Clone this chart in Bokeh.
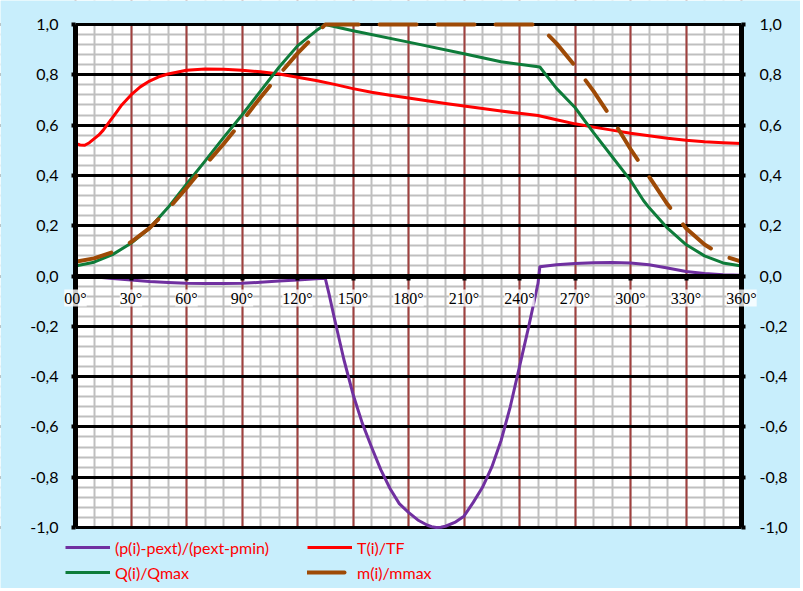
from bokeh.plotting import figure
from bokeh.models import (Range1d, LinearAxis, SingleIntervalTicker, FixedTicker,
                          CustomJSTickFormatter, Grid, Legend, LegendItem, BoxAnnotation,
                          ColumnDataSource, LabelSet)
from bokeh.embed import file_html
from bokeh.resources import INLINE

# ---------------- data ----------------
deg_T = [0, 2.5, 5, 7.5, 10, 12.5, 15, 17.5, 20, 22.5, 25, 27.5, 30, 35, 40, 45, 50, 60, 70, 80,
         90, 100, 110, 120, 130, 140, 150, 160, 170, 180, 190, 200, 210, 220, 230, 240, 250,
         260, 270, 280, 290, 300, 310, 320, 330, 340, 350, 360]
T_TF = [0.527, 0.521, 0.52, 0.53, 0.545, 0.56, 0.58, 0.605, 0.63, 0.655, 0.68, 0.70, 0.72,
        0.752, 0.775, 0.792, 0.803, 0.818, 0.823, 0.822, 0.818, 0.812, 0.803, 0.79, 0.777,
        0.762, 0.745, 0.731, 0.719, 0.708, 0.697, 0.686, 0.676, 0.666, 0.656, 0.647, 0.638,
        0.621, 0.605, 0.592, 0.58, 0.568, 0.558, 0.548, 0.54, 0.534, 0.53, 0.527]

deg_Q = [0, 10, 20, 30, 40, 50, 60, 70, 80, 90, 100, 110, 120, 130, 135, 150, 180, 210, 230,
         251, 260, 270, 280, 290, 300, 307, 310, 320, 330, 340, 350, 360]
Q_Qmax = [0.04, 0.055, 0.085, 0.13, 0.19, 0.272, 0.365, 0.457, 0.55, 0.64, 0.735, 0.83,
          0.915, 0.975, 1.0, 0.975, 0.93, 0.884, 0.852, 0.831, 0.746, 0.67, 0.57, 0.475,
          0.38, 0.30, 0.272, 0.19, 0.125, 0.08, 0.052, 0.04]

deg_m = [0, 10, 20, 30, 40, 50, 60, 70, 80, 90, 100, 110, 120, 130, 135, 250, 260, 270, 280,
         290, 300, 310, 320, 330, 340, 350, 360]
m_mmax = [0.057, 0.07, 0.095, 0.135, 0.19, 0.265, 0.35, 0.44, 0.525, 0.615, 0.71, 0.8, 0.885,
          0.96, 1.0, 1.0, 0.925, 0.835, 0.735, 0.625, 0.505, 0.395, 0.285, 0.19, 0.125, 0.08,
          0.057]

deg_p = [0, 10, 20, 30, 40, 50, 60, 70, 80, 90, 100, 110, 120, 130, 135, 137, 140, 145, 150,
         155, 160, 165, 170, 175, 180, 185, 190, 192.5, 195, 197.5, 200, 205, 210, 215, 220,
         225, 230, 235, 240, 245, 250, 251, 260, 270, 280, 290, 300, 310, 320, 330, 340, 350,
         360]
p_norm = [0.003, -0.003, -0.01, -0.016, -0.022, -0.026, -0.029, -0.03, -0.03, -0.029, -0.025,
          -0.02, -0.016, -0.011, -0.009, -0.07, -0.17, -0.33, -0.47, -0.585, -0.68, -0.77,
          -0.845, -0.905, -0.94, -0.97, -0.99, -0.997, -1.0, -0.999, -0.995, -0.98, -0.955,
          -0.9, -0.84, -0.76, -0.655, -0.52, -0.36, -0.2, -0.03, 0.037, 0.045, 0.05, 0.053,
          0.054, 0.052, 0.045, 0.032, 0.018, 0.01, 0.005, 0.003]

xtick_deg = [0, 30, 60, 90, 120, 150, 180, 210, 240, 270, 300, 330, 360]
xtick_labels = ["00°", "30°", "60°", "90°", "120°", "150°", "180°", "210°", "240°", "270°",
                "300°", "330°", "360°"]

series_labels = ["(p(i)-pext)/(pext-pmin)", "T(i)/TF", "Q(i)/Qmax", "m(i)/mmax"]

# ---------------- styles / layout ----------------
BG = "#C8EEFC"
GRAY = "#BFBFBF"
DARKRED = "#A0403E"
C_P = "#7030A0"
C_T = "#FF0000"
C_Q = "#0E7C3A"
C_M = "#9E4A06"
FONT = "Lato"
W, H = 800, 588
FRAME_L, FRAME_R, FRAME_T, FRAME_B = 75, 741, 24, 527     # plot area in pixels
X_MIN, X_MAX, Y_MIN, Y_MAX = 0, 360, -1.0, 1.0
PXU_Y = (FRAME_B - FRAME_T) / (Y_MAX - Y_MIN)
PXU_X = (FRAME_R - FRAME_L) / (X_MAX - X_MIN)
# the frame covers the whole figure; areas outside the plot are masked in blue
x_range = Range1d(X_MIN - FRAME_L / PXU_X, X_MAX + (W - FRAME_R) / PXU_X)
y_range = Range1d(Y_MIN - (H - FRAME_B) / PXU_Y, Y_MAX + FRAME_T / PXU_Y)

p = figure(width=W, height=H, output_backend="svg", toolbar_location=None,
           x_range=x_range, y_range=y_range, min_border=0)
p.background_fill_color = "white"
p.border_fill_color = BG
p.outline_line_color = None
p.xgrid.visible = False
p.ygrid.visible = False

# grids: minor first, then major
p.add_layout(Grid(dimension=0, ticker=SingleIntervalTicker(interval=10), bounds=(X_MIN, X_MAX),
                  grid_line_color=GRAY, grid_line_width=2))
p.add_layout(Grid(dimension=1, ticker=SingleIntervalTicker(interval=0.04), bounds=(Y_MIN, Y_MAX),
                  grid_line_color=GRAY, grid_line_width=2))
p.add_layout(Grid(dimension=0, ticker=SingleIntervalTicker(interval=30), bounds=(X_MIN, X_MAX),
                  grid_line_color=DARKRED, grid_line_width=2))
p.add_layout(Grid(dimension=1, ticker=SingleIntervalTicker(interval=0.2), bounds=(Y_MIN, Y_MAX),
                  grid_line_color="black", grid_line_width=3))

# blue masks outside the plot area
d = 1.5 / PXU_Y
for kw in (dict(right=X_MIN), dict(left=X_MAX), dict(top=Y_MIN - d), dict(bottom=Y_MAX + d)):
    p.add_layout(BoxAnnotation(fill_color=BG, fill_alpha=1.0, line_color=None,
                               level="underlay", **kw))

# series
r_p = p.line(deg_p, p_norm, line_color=C_P, line_width=3, line_join="round")
r_t = p.line(deg_T, T_TF, line_color=C_T, line_width=3, line_join="round")
r_q = p.line(deg_Q, Q_Qmax, line_color=C_Q, line_width=3, line_join="round")
r_m = p.line(deg_m, m_mmax, line_color=C_M, line_width=4, line_dash="37 21",
             line_cap="round", line_join="round")

# x axis at y = 0 (labels drawn separately with white boxes)
xa = p.xaxis[0]
xa.ticker = FixedTicker(ticks=xtick_deg)
xa.formatter = CustomJSTickFormatter(code="return ''")
xa.fixed_location = 0
xa.bounds = (X_MIN, X_MAX)
xa.axis_line_width = 5
xa.axis_line_color = "black"
xa.major_tick_in = 0
xa.major_tick_out = 4
xa.major_tick_line_width = 4
xa.minor_tick_out = 0
xa.minor_tick_in = 0
xa.major_label_text_font_size = "0px"

fmt = "return tick.toFixed(1).replace('.', ',')"


def style_y(ax, loc, standoff):
    ax.ticker = SingleIntervalTicker(interval=0.2)
    ax.formatter = CustomJSTickFormatter(code=fmt)
    ax.fixed_location = loc
    ax.bounds = (Y_MIN, Y_MAX)
    ax.axis_line_width = 5
    ax.axis_line_color = "black"
    ax.major_tick_in = 0
    ax.major_tick_out = 4
    ax.major_tick_line_width = 4
    ax.minor_tick_out = 0
    ax.minor_tick_in = 0
    ax.major_label_text_font = FONT
    ax.major_label_text_font_size = "16px"
    ax.major_label_text_color = "black"
    ax.major_label_standoff = standoff


style_y(p.yaxis[0], X_MIN, 13)
ra = LinearAxis()
style_y(ra, X_MAX, 14)
p.add_layout(ra, "right")

# x tick labels in white boxes, 22 px below the zero line
src = ColumnDataSource(dict(x=xtick_deg, y=[0] * len(xtick_deg), t=xtick_labels))
p.add_layout(LabelSet(x="x", y="y", text="t", source=src, y_offset=-22,
                      text_align="center", text_baseline="middle",
                      text_font=FONT, text_font_size="16px", text_color="black",
                      background_fill_color="white", background_fill_alpha=0.8))

legend = Legend(items=[LegendItem(label=series_labels[0], renderers=[r_p]),
                       LegendItem(label=series_labels[1], renderers=[r_t]),
                       LegendItem(label=series_labels[2], renderers=[r_q]),
                       LegendItem(label=series_labels[3], renderers=[r_m])],
                orientation="horizontal", ncols=2, location=(65, 6),
                padding=0, margin=0, spacing=5, label_height=20, glyph_height=20,
                glyph_width=45, label_standoff=5, label_width=187,
                border_line_color=None, background_fill_alpha=0,
                label_text_font=FONT, label_text_font_size="16px", label_text_color="red")
p.add_layout(legend)

open("out.html", "w").write(file_html(p, INLINE))
